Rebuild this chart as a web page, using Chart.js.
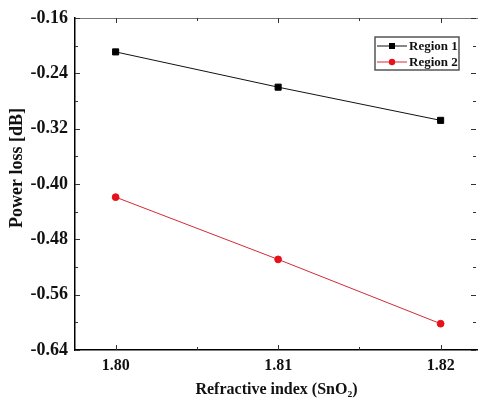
<!DOCTYPE html>
<html>
<head>
<meta charset="utf-8">
<script src="https://cdn.jsdelivr.net/npm/chart.js@4"></script>
<style>
  html, body { margin: 0; padding: 0; background: #fff; }
  #wrap { width: 478px; height: 401px; }
</style>
</head>
<body>
<div id="wrap"><canvas id="myChart" width="478" height="401"></canvas></div>
<script>
const refractive = [1.80, 1.81, 1.82]
const region1 = [-0.209, -0.260, -0.308]
const region2 = [-0.419, -0.509, -0.602]
const yTicks = [-0.64, -0.56, -0.48, -0.40, -0.32, -0.24, -0.16]
const xTicks = [1.80, 1.81, 1.82]
const yTitle = 'Power loss [dB]'

const serif = '"Liberation Serif", "Times New Roman", serif'

// inward ticks + top frame line
const frame = {
    id: 'frame',
    afterDraw(chart) {
        const { ctx, chartArea: a, scales } = chart
        ctx.save()
        ctx.strokeStyle = '#777'
        ctx.lineWidth = 1
        ctx.beginPath()
        ctx.moveTo(a.left, a.top + 0.5)
        ctx.lineTo(a.right, a.top + 0.5)
        ctx.stroke()

        ctx.strokeStyle = '#333'
        for (let v = -0.64; v <= -0.159; v += 0.04) {
            const y = Math.round(scales.y.getPixelForValue(v)) + 0.5
            const major = Math.abs(Math.round(v / 0.08) * 0.08 - v) < 1e-6
            const len = major ? 5 : 3
            ctx.beginPath()
            ctx.moveTo(a.left, y); ctx.lineTo(a.left + len, y)
            ctx.moveTo(a.right - 2, y); ctx.lineTo(a.right - 2 - len, y)
            ctx.stroke()
        }
        for (let v = 1.80; v <= 1.8201; v += 0.005) {
            const x = Math.round(scales.x.getPixelForValue(v)) + 0.5
            const major = Math.abs(Math.round(v * 100) / 100 - v) < 1e-6
            const len = major ? 5 : 3
            ctx.beginPath()
            ctx.moveTo(x, a.bottom); ctx.lineTo(x, a.bottom - len)
            ctx.moveTo(x, a.top); ctx.lineTo(x, a.top + len)
            ctx.stroke()
        }

        // y title, sits a bit above the middle in the original
        ctx.translate(17, 168)
        ctx.rotate(-Math.PI / 2)
        ctx.font = 'bold 18px ' + serif
        ctx.fillStyle = '#111'
        ctx.textAlign = 'center'
        ctx.textBaseline = 'middle'
        ctx.fillText(yTitle, 0, 0)
        ctx.restore()
    }
}

// boxed legend like the original
const boxLegend = {
    id: 'boxLegend',
    afterDraw(chart) {
        const { ctx } = chart
        const x0 = 375, y0 = 37, w = 84, h = 33
        ctx.save()
        ctx.fillStyle = '#fff'
        ctx.fillRect(x0, y0, w, h)
        ctx.strokeStyle = '#555'
        ctx.lineWidth = 1.5
        ctx.strokeRect(x0, y0, w, h)
        ctx.font = 'bold 13px ' + serif
        ctx.textBaseline = 'middle'
        chart.data.datasets.forEach((ds, i) => {
            const y = y0 + 9 + i * 16
            ctx.strokeStyle = ds.borderColor
            ctx.lineWidth = 1
            ctx.beginPath()
            ctx.moveTo(x0 + 2, y); ctx.lineTo(x0 + 32, y)
            ctx.stroke()
            ctx.fillStyle = ds.pointBackgroundColor
            if (ds.pointStyle === 'rect') {
                ctx.fillRect(x0 + 14, y - 3, 6, 6)
            } else {
                ctx.beginPath()
                ctx.arc(x0 + 17, y, 3.2, 0, Math.PI * 2)
                ctx.fill()
            }
            ctx.fillStyle = '#111'
            ctx.fillText(ds.label, x0 + 34, y + 1)
        })
        ctx.restore()
    }
}

const ctx = document.getElementById('myChart')
new Chart(ctx, {
    type: 'line',
    data: {
        datasets: [{
            label: 'Region 1',
            data: refractive.map((x, i) => ({ x: x, y: region1[i] })),
            borderColor: '#111',
            backgroundColor: '#000',
            pointBackgroundColor: '#000',
            pointBorderColor: '#000',
            pointStyle: 'rect',
            pointRadius: 4.3,
            borderWidth: 1
        }, {
            label: 'Region 2',
            data: refractive.map((x, i) => ({ x: x, y: region2[i] })),
            borderColor: '#d42a35',
            backgroundColor: '#e8101a',
            pointBackgroundColor: '#e8101a',
            pointBorderColor: '#e8101a',
            pointStyle: 'circle',
            pointRadius: 3.4,
            borderWidth: 1
        }]
    },
    options: {
        responsive: false,
        animation: false,
        layout: { autoPadding: false, padding: { top: 18, right: 0, left: 0, bottom: 0 } },
        plugins: {
            legend: { display: false },
            tooltip: { enabled: false }
        },
        scales: {
            x: {
                type: 'linear',
                min: 1.7975,
                max: 1.8223,
                afterFit: s => {
                    s.height = 51
                    s.paddingLeft = 0
                    s.paddingRight = 0
                },
                afterBuildTicks: s => { s.ticks = xTicks.map(v => ({ value: v })) },
                grid: { display: false, drawTicks: false },
                border: { color: '#000', width: 1.5 },
                ticks: {
                    padding: 6,
                    color: '#111',
                    font: { family: serif, size: 16, weight: 'bold' },
                    callback: v => v.toFixed(2)
                },
                title: {
                    display: true,
                    text: 'Refractive index (SnO₂)',
                    color: '#111',
                    font: { family: serif, size: 16, weight: 'bold' },
                    padding: { top: 0, bottom: 2 }
                }
            },
            y: {
                min: -0.64,
                max: -0.16,
                afterFit: s => { s.width = 75 },
                afterBuildTicks: s => { s.ticks = yTicks.map(v => ({ value: v })) },
                grid: { display: false, drawTicks: false },
                border: { color: '#000', width: 1.5 },
                ticks: {
                    padding: 7,
                    color: '#111',
                    font: { family: serif, size: 18, weight: 'bold' },
                    callback: v => v.toFixed(2)
                }
            }
        }
    },
    plugins: [frame, boxLegend]
})
</script>
</body>
</html>
